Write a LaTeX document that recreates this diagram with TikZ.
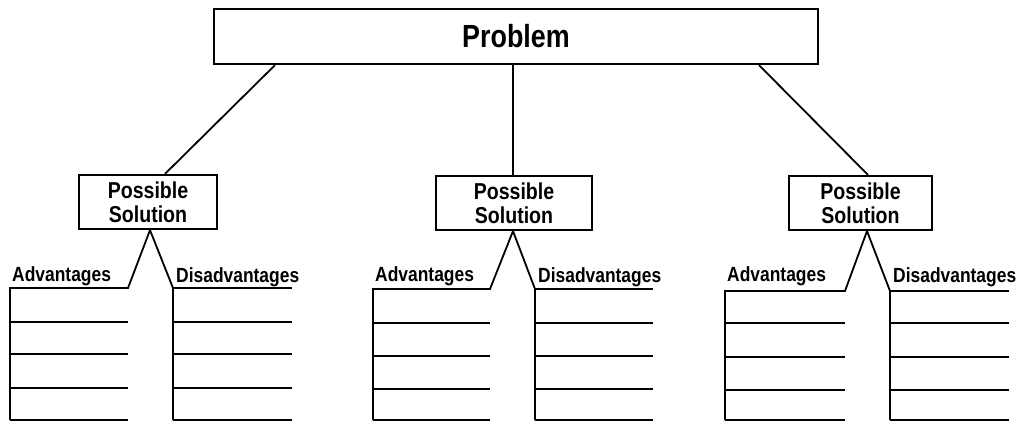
\documentclass[tikz,border=0pt]{standalone}
\usepackage{fontspec}
\setmainfont{Liberation Sans}
\newfontfamily\cbf[FakeStretch=0.85]{Liberation Sans}
\newfontfamily\cbp[FakeStretch=0.84]{Liberation Sans}
\begin{document}
\begin{tikzpicture}[x=1pt,y=-1pt,
  box/.style={draw, line width=2.2pt, inner sep=0pt, align=center},
  ln/.style={line width=1.8pt},
  con/.style={line width=1.8pt},
  lab/.style={anchor=base west, inner sep=0pt, font=\cbf\bfseries\fontsize{20.5}{22}\selectfont},
  solfont/.style={font=\cbf\bfseries\fontsize{23}{24}\selectfont}]
\useasboundingbox (0,0) rectangle (1026,426);
% problem
\node[box, minimum width=604pt, minimum height=55pt, font=\cbp\bfseries\fontsize{32}{34}\selectfont] (P) at (516,36.5) {Problem};
% solutions
\node[box, solfont, minimum width=138pt, minimum height=54pt] (S1) at (148,202) {Possible\\Solution};
\node[box, solfont, minimum width=156pt, minimum height=54pt] (S2) at (514,203) {Possible\\Solution};
\node[box, solfont, minimum width=143pt, minimum height=54pt] (S3) at (860.5,203) {Possible\\Solution};
% connectors
\draw[con] ([xshift=-241pt]P.south) -- ([xshift=17pt]S1.north);
\draw[con] ([xshift=-3pt]P.south) -- ([xshift=-1pt]S2.north);
\draw[con] ([xshift=243pt]P.south) -- ([xshift=7.5pt]S3.north);
% groups
\foreach \n/\apx/\al/\ar/\dl/\dr/\ty/\ya/\yb/\yc in
  {1/150/10/128/173/292/288/322/354/388,
   2/513/373/490/535/653/289/323/356/389,
   3/867/725/845/890/1009/291/323/357/390}{
  \coordinate (X\n) at (\apx,0);
  \coordinate (V\n) at (S\n.south -| X\n);
  \coordinate (A\n) at (\ar,\ty);
  \coordinate (D\n) at (\dl,\ty);
  \draw[ln, line join=miter] (\al,420) -- (\al,\ty) -- (A\n) -- (V\n) -- (D\n) -- (\dl,420);
  \draw[ln] (D\n) -- (\dr,\ty);
  \foreach \yy in {\ya,\yb,\yc,420}{
    \draw[ln] (\al,\yy) -- (\ar,\yy);
    \draw[ln] (\dl,\yy) -- (\dr,\yy);
  }
  \node[lab] (LA\n) at (\al+2,281) {Advantages};
  \node[lab] (LD\n) at (\dl+3,282) {Disadvantages};
}
\end{tikzpicture}
\end{document}
